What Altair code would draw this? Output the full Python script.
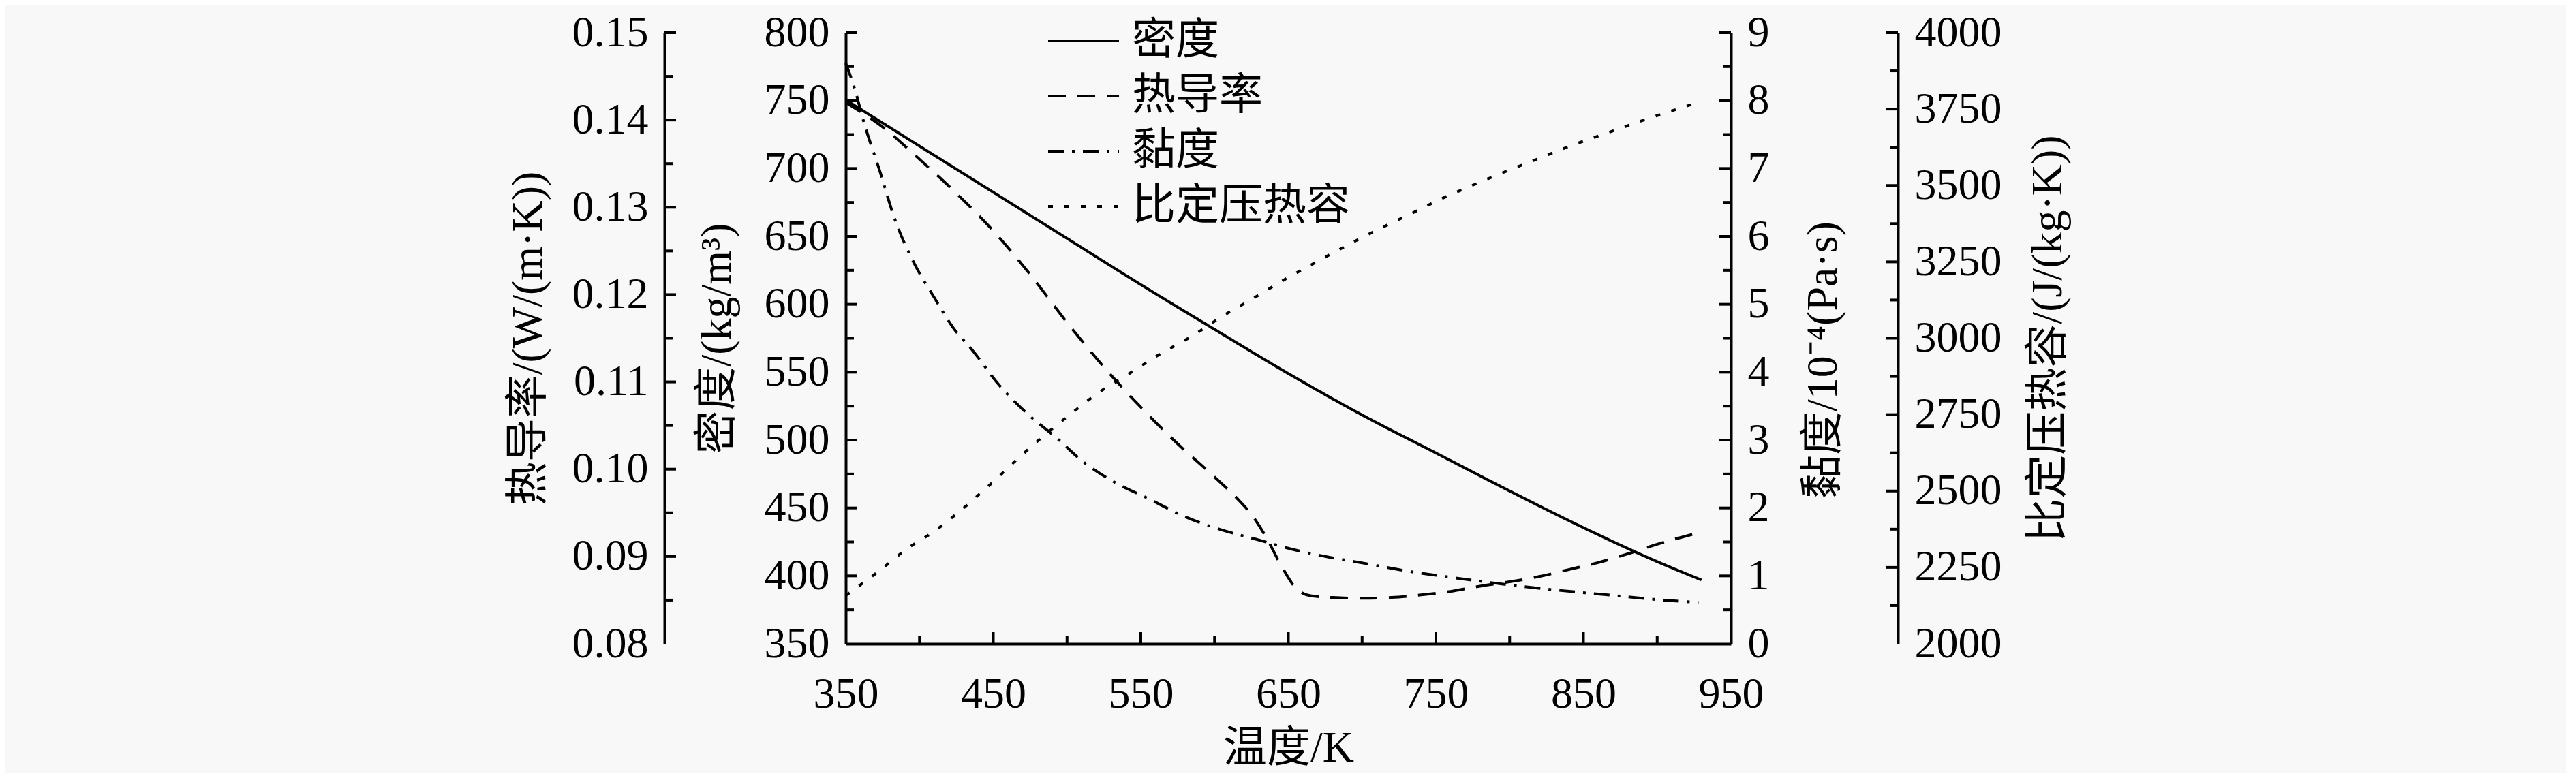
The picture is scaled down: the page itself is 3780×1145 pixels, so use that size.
import altair as alt
import pandas as pd

# ---------------- data ----------------
T_density = [350, 400, 450, 500, 550, 600, 650, 700, 750, 800, 850, 900, 930]
density = [750.5, 716.5, 682.5, 648.5, 614.5, 581.5, 549, 518.5, 490.5, 462.5, 435.5, 410.5, 397]

T_cond = [350, 375, 400, 425, 450, 475, 500, 525, 550, 575, 600, 615, 625, 635,
          645, 655, 665, 680, 700, 720, 740, 760, 780, 800, 820, 840, 860, 880, 900, 930]
cond = [0.1420, 0.1392, 0.1355, 0.1316, 0.1273, 0.1223, 0.1168, 0.1117, 0.1071,
        0.1029, 0.0991, 0.0967, 0.0948, 0.0922, 0.0890, 0.0864, 0.0855, 0.0853,
        0.0852, 0.0853, 0.0856, 0.0860, 0.0866, 0.0871, 0.0877, 0.0885, 0.0893,
        0.0903, 0.0914, 0.0928]

T_visc = [350, 355, 363, 373, 383, 396, 410, 423, 436, 454, 473, 493, 511, 533,
          555, 580, 603, 628, 653, 679, 703, 728, 753, 777, 802, 823, 851, 876, 900, 928]
visc = [8.55, 8.25, 7.63, 6.97, 6.27, 5.62, 5.10, 4.65, 4.32, 3.81, 3.39, 3.03,
        2.68, 2.37, 2.14, 1.87, 1.69, 1.54, 1.39, 1.27, 1.18, 1.08, 1.00, 0.93,
        0.86, 0.81, 0.75, 0.70, 0.65, 0.61]

T_cp = [350, 372, 391, 412, 430, 449, 466, 484, 503, 522, 543, 563, 585, 605, 626,
        646, 668, 689, 710, 732, 754, 777, 799, 820, 842, 865, 888, 911, 928]
cp = [2158, 2236, 2309, 2375, 2445, 2526, 2603, 2680, 2754, 2824, 2887, 2948, 3008,
      3071, 3130, 3188, 3247, 3302, 3354, 3405, 3457, 3505, 3549, 3589, 3631, 3670,
      3709, 3746, 3772]

series_names = ["密度", "热导率", "黏度", "比定压热容"]
dash_styles = [[1, 0], [26, 17], [23, 12, 4, 12], [7, 17]]

x_labels = [350, 450, 550, 650, 750, 850, 950]
x_major = [450, 550, 650, 750, 850]
x_minor = [400, 500, 600, 700, 800, 900]

dens_labels = [350, 400, 450, 500, 550, 600, 650, 700, 750, 800]
dens_major = [400, 450, 500, 550, 600, 650, 700, 750, 800]
dens_minor = [375, 425, 475, 525, 575, 625, 675, 725, 775]

cond_labels = [0.08, 0.09, 0.10, 0.11, 0.12, 0.13, 0.14, 0.15]
cond_major = [0.09, 0.10, 0.11, 0.12, 0.13, 0.14, 0.15]
cond_minor = [0.085, 0.095, 0.105, 0.115, 0.125, 0.135, 0.145]

visc_labels = [0, 1, 2, 3, 4, 5, 6, 7, 8, 9]
visc_major = [1, 2, 3, 4, 5, 6, 7, 8, 9]
visc_minor = [0.5, 1.5, 2.5, 3.5, 4.5, 5.5, 6.5, 7.5, 8.5]

cp_labels = [2000, 2250, 2500, 2750, 3000, 3250, 3500, 3750, 4000]
cp_major = [2250, 2500, 2750, 3000, 3250, 3500, 3750, 4000]
cp_minor = [2125, 2375, 2625, 2875, 3125, 3375, 3625, 3875]

# ---------------- styling ----------------
FONT = "Liberation Serif, Noto Sans CJK SC"
NUM_FONT = "Liberation Serif"
FS = 64
W, H = 1299, 897
MAJ, MIN = 17, 12
COND_OFF = 266
CP_OFF = 245

x_scale = alt.Scale(domain=[350, 950], nice=False, zero=False)

x_axis = alt.Axis(
    values=x_labels, format="d", title="温度/K", orient="bottom",
    ticks=False, domain=True, domainColor="black", domainWidth=4,
    labelFont=NUM_FONT, labelFontSize=FS, labelColor="black", labelPadding=42,
    labelFlush=False, labelOverlap=False, grid=False,
    titleFont=FONT, titleFontSize=FS, titleFontWeight="normal", titleColor="black",
    titleY=153, titleBaseline="middle",
)


def y_axis(values, fmt, title, orient, offset, title_x, title_y=None):
    kw = dict(
        values=values, format=fmt, title=title, orient=orient, offset=offset,
        ticks=False, domain=True, domainColor="black", domainWidth=4,
        labelFont=NUM_FONT, labelFontSize=FS, labelColor="black", labelPadding=24,
        labelFlush=False, labelOverlap=False, grid=False,
        titleFont=FONT, titleFontSize=FS, titleFontWeight="normal", titleColor="black",
        titleAngle=270, titleX=title_x, titleBaseline="middle", titleAlign="center",
    )
    if title_y is not None:
        kw["titleY"] = title_y
    return alt.Axis(**kw)


legend = alt.Legend(
    orient="none", legendX=278, legendY=-20, title=None,
    symbolType="M-1,0H7", symbolSize=676, symbolStrokeWidth=4,
    symbolStrokeColor="black", symbolFillColor="transparent", symbolOffset=0,
    labelFont=FONT, labelFontSize=FS, labelColor="black", labelOffset=78,
    labelLimit=2000, rowPadding=17, padding=0,
)

dash_scale = alt.Scale(domain=series_names, range=dash_styles)


def line_layer(T, vals, name, domain, axis):
    df = pd.DataFrame({"T": T, "v": vals, "series": name})
    return alt.Chart(df).mark_line(color="black", strokeWidth=4, interpolate="monotone").encode(
        x=alt.X("T:Q", scale=x_scale, axis=x_axis),
        y=alt.Y("v:Q", scale=alt.Scale(domain=domain, nice=False, zero=False), axis=axis),
        strokeDash=alt.StrokeDash("series:N", scale=dash_scale, legend=legend),
    )


def ytick_layer(vals, domain, x0, x1):
    df = pd.DataFrame({"v": vals})
    return alt.Chart(df).mark_rule(color="black", strokeWidth=4).encode(
        y=alt.Y("v:Q", scale=alt.Scale(domain=domain, nice=False, zero=False), axis=None),
        x=alt.value(x0), x2=alt.value(x1),
    )


def xtick_layer(vals, length):
    df = pd.DataFrame({"v": vals})
    return alt.Chart(df).mark_rule(color="black", strokeWidth=4).encode(
        x=alt.X("v:Q", scale=x_scale, axis=x_axis),
        y=alt.value(H), y2=alt.value(H - length),
    )


dens_dom = [350, 800]
cond_dom = [0.08, 0.15]
visc_dom = [0, 9]
cp_dom = [2000, 4000]

layers = [
    line_layer(T_density, density, series_names[0], dens_dom,
               y_axis(dens_labels, "d", "密度/(kg/m³)", "left", 0, -189)),
    line_layer(T_cond, cond, series_names[1], cond_dom,
               y_axis(cond_labels, ".2f", "热导率/(W/(m·K))", "left", COND_OFF, -200)),
    line_layer(T_visc, visc, series_names[2], visc_dom,
               y_axis(visc_labels, "d", "黏度/10⁻⁴(Pa·s)", "right", 0, 135, 480)),
    line_layer(T_cp, cp, series_names[3], cp_dom,
               y_axis(cp_labels, "d", "比定压热容/(J/(kg·K))", "right", CP_OFF, 220)),
    ytick_layer(dens_major, dens_dom, 0, MAJ),
    ytick_layer(dens_minor, dens_dom, 0, MIN),
    ytick_layer(cond_major, cond_dom, -COND_OFF, -COND_OFF + MAJ),
    ytick_layer(cond_minor, cond_dom, -COND_OFF, -COND_OFF + MIN),
    ytick_layer(visc_major, visc_dom, W, W - MAJ),
    ytick_layer(visc_minor, visc_dom, W, W - MIN),
    ytick_layer(cp_major, cp_dom, W + CP_OFF, W + CP_OFF - MAJ),
    ytick_layer(cp_minor, cp_dom, W + CP_OFF, W + CP_OFF - MIN),
    xtick_layer(x_major, MAJ),
    xtick_layer(x_minor, MIN),
]

chart = alt.layer(*layers).resolve_scale(
    y="independent", strokeDash="shared"
).properties(
    width=W, height=H,
    autosize=alt.AutoSizeParams(type="none"),
    padding={"left": 1233, "top": 40, "right": 1226, "bottom": 190},
    background="#f8f8f8",
).configure_view(stroke=None)

chart.save("out.html", embed_options={"renderer": "svg", "actions": False})
